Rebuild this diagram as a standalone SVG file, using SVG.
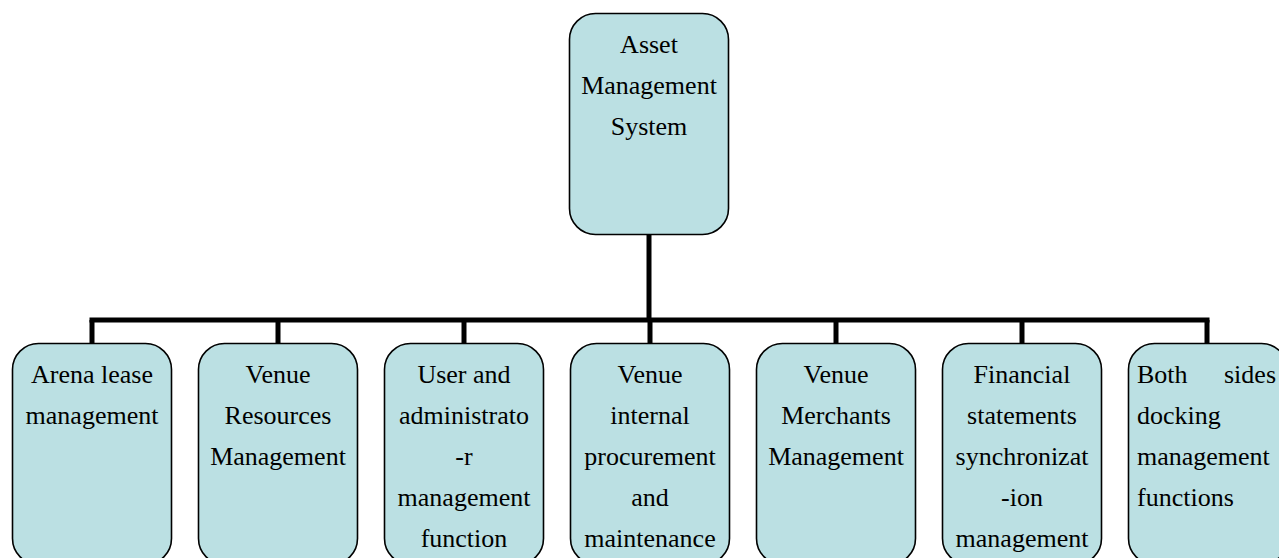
<svg xmlns="http://www.w3.org/2000/svg" width="1279" height="558" viewBox="0 0 1279 558">
<style>
.box{fill:#BBE0E3;stroke:#000;stroke-width:1.6}
.t{font-family:"Liberation Serif","Times New Roman",serif;font-size:26px;fill:#000;text-anchor:middle}
.tl{font-family:"Liberation Serif","Times New Roman",serif;font-size:26px;fill:#000}
.c{fill:none;stroke:#000;stroke-width:5;stroke-linecap:butt}
</style>
<rect width="1279" height="558" fill="#fff"/>
<g id="connectors">
<path class="c" d="M649 235V320"/>
<path class="c" d="M89.5 320H1209.5"/>
<path class="c" d="M92 320V343M278 320V343M464 320V343M650 320V343M836 320V343M1022 320V343M1207 320V343"/>
</g>
<g id="root">
<rect class="box" x="569.5" y="13.5" width="159" height="221" rx="26"/>
<text class="t" x="649" y="53">Asset</text>
<text class="t" x="649" y="94">Management</text>
<text class="t" x="649" y="135">System</text>
</g>
<g id="n1">
<rect class="box" x="12.5" y="343.5" width="159" height="221" rx="26"/>
<text class="t" x="92" y="383">Arena lease</text>
<text class="t" x="92" y="424">management</text>
</g>
<g id="n2">
<rect class="box" x="198.5" y="343.5" width="159" height="221" rx="26"/>
<text class="t" x="278" y="383">Venue</text>
<text class="t" x="278" y="424">Resources</text>
<text class="t" x="278" y="465">Management</text>
</g>
<g id="n3">
<rect class="box" x="384.5" y="343.5" width="159" height="221" rx="26"/>
<text class="t" x="464" y="383">User and</text>
<text class="t" x="464" y="424">administrato</text>
<text class="t" x="464" y="465">-r</text>
<text class="t" x="464" y="506">management</text>
<text class="t" x="464" y="547">function</text>
</g>
<g id="n4">
<rect class="box" x="570.5" y="343.5" width="159" height="221" rx="26"/>
<text class="t" x="650" y="383">Venue</text>
<text class="t" x="650" y="424">internal</text>
<text class="t" x="650" y="465">procurement</text>
<text class="t" x="650" y="506">and</text>
<text class="t" x="650" y="547">maintenance</text>
</g>
<g id="n5">
<rect class="box" x="756.5" y="343.5" width="159" height="221" rx="26"/>
<text class="t" x="836" y="383">Venue</text>
<text class="t" x="836" y="424">Merchants</text>
<text class="t" x="836" y="465">Management</text>
</g>
<g id="n6">
<rect class="box" x="942.5" y="343.5" width="159" height="221" rx="26"/>
<text class="t" x="1022" y="383">Financial</text>
<text class="t" x="1022" y="424">statements</text>
<text class="t" x="1022" y="465">synchronizat</text>
<text class="t" x="1022" y="506">-ion</text>
<text class="t" x="1022" y="547">management</text>
</g>
<g id="n7">
<rect class="box" x="1128.5" y="343.5" width="159" height="221" rx="26"/>
<text class="tl" y="383"><tspan x="1137">Both</tspan><tspan x="1276" text-anchor="end">sides</tspan></text>
<text class="tl" x="1137" y="424">docking</text>
<text class="tl" x="1137" y="465">management</text>
<text class="tl" x="1137" y="506">functions</text>
</g>
</svg>
